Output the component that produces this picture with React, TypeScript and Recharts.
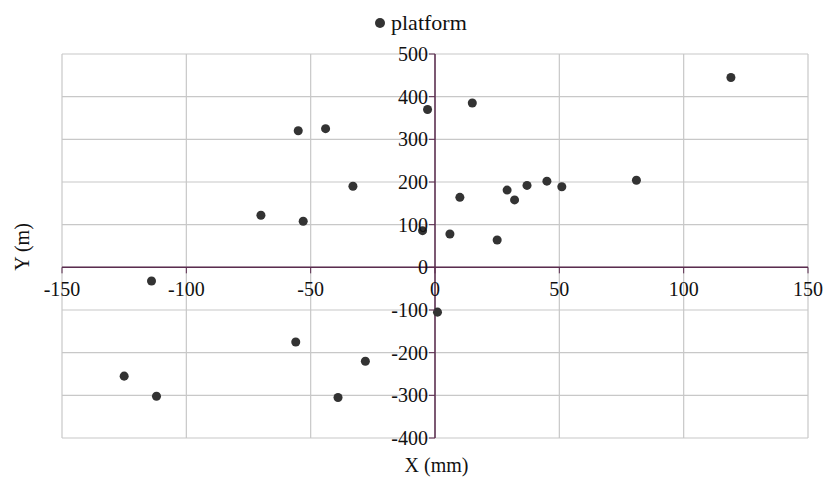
import React from 'react';
import {
  ScatterChart,
  Scatter,
  XAxis,
  YAxis,
  CartesianGrid,
  ReferenceLine,
} from 'recharts';

// platform positions
const xValues = [119, 15, -3, -44, -55, -33, -70, -53, -5, 6, 10, 25, 29, 32, 37, 45, 51, 81, -114, 1, -56, -28, -125, -112, -39];
const yValues = [445, 385, 370, 325, 320, 190, 122, 108, 86, 78, 164, 64, 181, 158, 192, 202, 189, 204, -32, -105, -175, -220, -255, -302, -305];

const xTicks = [-150, -100, -50, 0, 50, 100, 150];
const yTicks = [-400, -300, -200, -100, 0, 100, 200, 300, 400, 500];

const data = xValues.map((x, i) => ({ x, y: yValues[i] }));

const W = 823;
const H = 478;
const M = { top: 54, right: 15, bottom: 39, left: 61 };
const plotTop = 54;
const plotBottom = H - 40;
const plotLeft = 62;
const plotRight = W - 15;
const zeroY = plotTop + (500 / 900) * (plotBottom - plotTop);
const zeroX = plotLeft + (150 / 300) * (plotRight - plotLeft);

const FONT = '"Liberation Serif", "Times New Roman", serif';
const AXIS = '#5b2c4f';
const DOT = '#333333';

const XTick = (props: any) => {
  const { x, payload } = props;
  return (
    <g>
      <line x1={x} x2={x} y1={zeroY} y2={zeroY + 6} stroke={AXIS} strokeWidth={1} />
      <text x={x} y={zeroY + 29} textAnchor="middle" fontFamily={FONT} fontSize={20} fill="#111">
        {payload.value}
      </text>
    </g>
  );
};

const YTick = (props: any) => {
  const { y, payload } = props;
  return (
    <g>
      <line x1={zeroX - 6} x2={zeroX} y1={y} y2={y} stroke={AXIS} strokeWidth={1} />
      <text x={zeroX - 7} y={y + 7} textAnchor="end" fontFamily={FONT} fontSize={20} fill="#111">
        {payload.value}
      </text>
    </g>
  );
};

export default function App() {
  return (
    <div style={{ position: 'absolute', left: 0, top: 0, width: W, height: H, background: '#fff' }}>
      <ScatterChart width={W} height={H} margin={M}>
        <CartesianGrid stroke="#c8c8c8" strokeWidth={1.2} />
        <XAxis
          type="number"
          dataKey="x"
          domain={[-150, 150]}
          ticks={xTicks}
          axisLine={false}
          tickLine={false}
          tick={<XTick />}
          height={1}
          interval={0}
        />
        <YAxis
          type="number"
          dataKey="y"
          domain={[-400, 500]}
          ticks={yTicks}
          axisLine={false}
          tickLine={false}
          tick={<YTick />}
          width={1}
          interval={0}
        />
        <ReferenceLine x={0} stroke={AXIS} strokeWidth={1.5} />
        <ReferenceLine y={0} stroke={AXIS} strokeWidth={1.5} />
        <Scatter name="platform" data={data} fill={DOT} isAnimationActive={false} />
      </ScatterChart>
      <div
        style={{
          position: 'absolute', top: 10, left: 374, display: 'flex',
          alignItems: 'center', fontFamily: FONT, fontSize: 22, color: '#111',
        }}
      >
        <svg width={12} height={12} style={{ marginRight: 5 }}>
          <circle cx={6} cy={6} r={5} fill={DOT} />
        </svg>
        <span>platform</span>
      </div>
      <div style={{ position: 'absolute', top: 454, left: 0, width: W, textAlign: 'center', fontFamily: FONT, fontSize: 20, color: '#111', paddingLeft: 50, boxSizing: 'border-box' }}>
        X (mm)
      </div>
      <div style={{ position: 'absolute', left: 22, top: 247, transform: 'translate(-50%, -50%) rotate(-90deg)', fontFamily: FONT, fontSize: 20, color: '#111', whiteSpace: 'nowrap' }}>
        Y (m)
      </div>
    </div>
  );
}
